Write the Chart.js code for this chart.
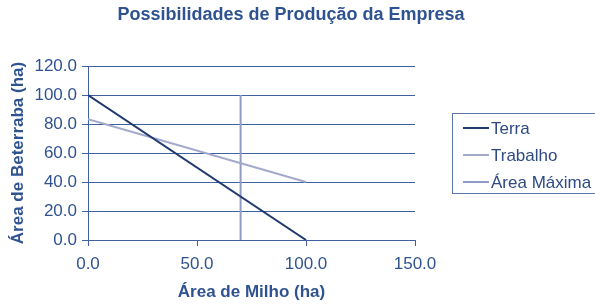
<!DOCTYPE html>
<html>
<head>
<meta charset="utf-8">
<script src="https://cdn.jsdelivr.net/npm/chart.js@4/dist/chart.umd.min.js"></script>
<style>
  html, body { margin: 0; padding: 0; background: #fff; }
  #wrap { width: 595px; height: 305px; }
</style>
</head>
<body>
<div id="wrap"><canvas id="chart" width="595" height="305"></canvas></div>
<script>
// data
const chartTitle = "Possibilidades de Produção da Empresa";
const seriesNames = ["Terra", "Trabalho", "Área Máxima"];
const terraMilho = [0, 100];
const terraBeterraba = [100, 0];
const trabalhoMilho = [0, 100];
const trabalhoBeterraba = [83.3, 40];
const maximaMilho = [70, 70];
const maximaBeterraba = [0, 100];
const xTicks = [0, 50, 100, 150];
const yTicks = [0, 20, 40, 60, 80, 100, 120];

const textColor = "#2F5390";
const gridColor = "#3F61A0";
const lineColors = ["#1F3A6E", "#A3A9CB", "#8F9BC6"];
const fontFamily = "'Liberation Sans', Arial, sans-serif";

function points(xs, ys) {
  return xs.map((x, i) => ({ x: x, y: ys[i] }));
}

// title centred on the whole picture and legend in a box at the right
const extras = {
  id: "extras",
  afterDraw(chart) {
    const ctx = chart.ctx;
    ctx.save();
    ctx.fillStyle = textColor;
    ctx.font = "bold 18px " + fontFamily;
    ctx.textAlign = "center";
    ctx.textBaseline = "middle";
    ctx.fillText(chartTitle, 291, 15);

    ctx.textAlign = "left";
    ctx.strokeStyle = "#5B76A9";
    ctx.lineWidth = 1;
    ctx.strokeRect(452.5, 113.5, 160, 80);
    ctx.font = "17px " + fontFamily;
    chart.data.datasets.forEach((ds, i) => {
      const y = 128 + i * 27;
      ctx.strokeStyle = ds.borderColor;
      ctx.lineWidth = 2;
      ctx.beginPath();
      ctx.moveTo(463, y);
      ctx.lineTo(489, y);
      ctx.stroke();
      ctx.fillStyle = "#2E4A82";
      ctx.fillText(ds.label, 491, y + 1);
    });
    ctx.restore();
  }
};

const ctx = document.getElementById("chart").getContext("2d");
new Chart(ctx, {
  type: "scatter",
  data: {
    datasets: [
      { label: seriesNames[0], data: points(terraMilho, terraBeterraba), borderColor: lineColors[0] },
      { label: seriesNames[1], data: points(trabalhoMilho, trabalhoBeterraba), borderColor: lineColors[1] },
      { label: seriesNames[2], data: points(maximaMilho, maximaBeterraba), borderColor: lineColors[2] }
    ].map(d => Object.assign(d, { showLine: true, pointRadius: 0, borderWidth: 2, fill: false }))
  },
  options: {
    responsive: false,
    animation: false,
    layout: { padding: { top: 66, right: 180, left: 0, bottom: 0 } },
    plugins: {
      legend: { display: false },
      tooltip: { enabled: false },
      title: { display: false }
    },
    scales: {
      x: {
        type: "linear",
        min: 0,
        max: 150,
        afterBuildTicks: (s) => { s.ticks = xTicks.map(v => ({ value: v })); },
        afterFit: (s) => { s.height = 65; },
        border: { color: gridColor, width: 1 },
        grid: { drawOnChartArea: false, drawTicks: true, tickLength: 6, color: gridColor },
        ticks: {
          color: textColor,
          padding: 8,
          font: { family: fontFamily, size: 17 },
          callback: (v) => Number(v).toFixed(1)
        },
        title: {
          display: true,
          text: "Área de Milho (ha)",
          color: textColor,
          padding: { top: 0, bottom: 2 },
          font: { family: fontFamily, size: 17, weight: "bold" }
        }
      },
      y: {
        type: "linear",
        min: 0,
        max: 120,
        afterBuildTicks: (s) => { s.ticks = yTicks.map(v => ({ value: v })); },
        afterFit: (s) => { s.width = 88; },
        border: { color: gridColor, width: 1 },
        grid: { color: gridColor, tickLength: 6 },
        ticks: {
          color: textColor,
          padding: 5,
          font: { family: fontFamily, size: 17 },
          callback: (v) => Number(v).toFixed(1)
        },
        title: {
          display: true,
          text: "Área de Beterraba (ha)",
          color: textColor,
          padding: { top: 8, bottom: 0 },
          font: { family: fontFamily, size: 17, weight: "bold" }
        }
      }
    }
  },
  plugins: [extras]
});
</script>
</body>
</html>
